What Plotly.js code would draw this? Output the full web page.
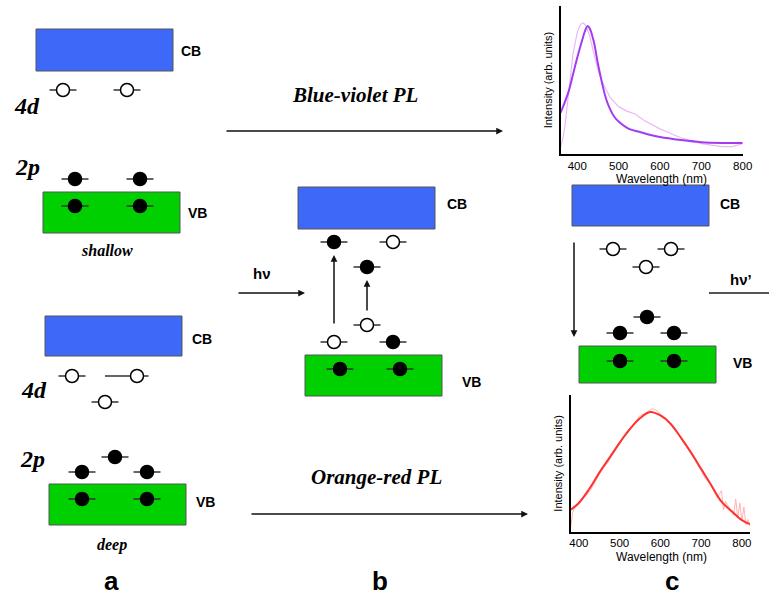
<!DOCTYPE html>
<html><head><meta charset="utf-8">
<script src="https://cdn.plot.ly/plotly-3.0.1.min.js"></script>
<style>html,body{margin:0;padding:0;background:#fff}</style>
</head><body><div id="chart" style="width:769px;height:597px"></div>
<script>
// ---- Blue-violet PL spectrum (top inset) ----
const bvFitWavelength = [360,370,380,390,400,410,420,425,430,440,450,460,470,480,490,500,525,550,575,600,650,700,750,800];
const bvFitIntensity  = [0.28,0.35,0.43,0.54,0.65,0.75,0.84,0.865,0.85,0.76,0.61,0.48,0.37,0.30,0.25,0.22,0.17,0.15,0.13,0.115,0.095,0.08,0.075,0.075];
const bvRawWavelength = [360,365,370,375,380,390,400,405,410,415,420,430,440,450,460,470,480,490,500,520,540,560,580,600,625,650,675,700,725,750,775,800];
const bvRawIntensity  = [0.05,0.10,0.18,0.30,0.45,0.68,0.82,0.86,0.88,0.885,0.87,0.80,0.68,0.57,0.49,0.43,0.38,0.35,0.32,0.29,0.27,0.23,0.20,0.17,0.14,0.11,0.09,0.07,0.06,0.05,0.05,0.07];
// ---- Orange-red PL spectrum (bottom inset) ----
const orFitWavelength = [380,400,425,450,475,500,525,550,575,600,625,650,675,700,725,750,775,800,820];
const orFitIntensity  = [0.16,0.21,0.31,0.43,0.54,0.65,0.75,0.83,0.875,0.85,0.79,0.69,0.58,0.46,0.34,0.22,0.15,0.085,0.055];
const orRawWavelength = [380,385,390,400,410,420,430,440,450,460,470,480,490,500,510,520,530,540,550,560,570,580,590,600,610,620,630,640,650,660,670,680,690,700,710,720,730,740,750,755,760,770,780,785,790,795,800,805,810,815,820];
const orRawIntensity  = [0.03,0.14,0.18,0.20,0.25,0.27,0.31,0.37,0.42,0.47,0.50,0.55,0.60,0.64,0.69,0.72,0.77,0.81,0.85,0.86,0.88,0.90,0.89,0.86,0.84,0.81,0.77,0.73,0.69,0.64,0.60,0.56,0.50,0.45,0.39,0.36,0.31,0.25,0.30,0.16,0.22,0.17,0.12,0.24,0.10,0.21,0.08,0.18,0.05,0.09,0.04];
// tick labels
const tickWavelengths = [400,500,600,700,800];
const xTitle = 'Wavelength (nm)';
const yTitle = 'Intensity (arb. units)';

const BLUE = '#3d68f8', GREEN = '#00d000';
const sans = 'Liberation Sans, Arial, sans-serif';
const serif = 'Liberation Serif, Times New Roman, serif';

const shapes = [];
const annotations = [];
function rect(x0,y0,x1,y1,color){
  shapes.push({type:'rect',xref:'x3',yref:'y3',x0:x0,y0:y0,x1:x1,y1:y1,fillcolor:color,line:{color:'#555',width:1}});
}
function level(cx,cy,filled,left,right){
  left = left||13.5; right = right||13.5;
  shapes.push({type:'line',xref:'x3',yref:'y3',x0:cx-left,y0:cy,x1:cx+right,y1:cy,line:{color:'#333',width:1.5}});
  shapes.push({type:'circle',xref:'x3',yref:'y3',x0:cx-6.5,y0:cy-6.5,x1:cx+6.5,y1:cy+6.5,
    fillcolor:filled?'#000':'#fff',line:{color:'#000',width:1.5}});
}
function label(x,y,text,font){
  annotations.push({x:x,y:y,xref:'x3',yref:'y3',text:text,showarrow:false,xanchor:'center',yanchor:'middle',font:font});
}
function arrow(x0,y0,x1,y1){
  annotations.push({x:x1,y:y1,ax:x0,ay:y0,xref:'x3',yref:'y3',axref:'x3',ayref:'y3',text:'',showarrow:true,
    arrowhead:2,arrowsize:0.9,arrowwidth:1.5,arrowcolor:'#111'});
}
const fBand = {family:sans,size:14,color:'#000',weight:'bold'};
const fOrb  = {family:serif,size:24,color:'#000',weight:'bold',style:'italic'};
const fPL   = {family:serif,size:21,color:'#000',weight:'bold',style:'italic'};
const fSm   = {family:serif,size:16,color:'#000',weight:'bold',style:'italic'};
const fPanel= {family:sans,size:26,color:'#000',weight:'bold'};
const axFont = {family:sans,size:12,color:'#000'};

// panel a, shallow
rect(36,29,173,71,BLUE); label(191,51,'CB',fBand);
level(63,90,false); level(127,90,false);
label(27,106,'4d',fOrb); label(27,167,'2p',fOrb);
level(75,179,true); level(140,179,true);
rect(43,192,180,233,GREEN);
level(75,206,true); level(140,206,true);
label(197,213,'VB',fBand);
label(107,250,'shallow',fSm);
// panel a, deep
rect(45,316,182,356,BLUE); label(202,339,'CB',fBand);
level(72,376,false); level(137,376,false,32,11.5); level(105,402,false);
label(34,390,'4d',fOrb); label(32,459,'2p',fOrb);
level(82,472,true); level(115,457,true); level(147,472,true);
rect(49,484,186,525,GREEN);
level(82,499,true); level(147,499,true);
label(205,502,'VB',fBand);
label(112,545,'deep',fSm);
// panel b
rect(298,187,435,229,BLUE); label(457,204,'CB',fBand);
level(334,242,true); level(393,242,false);
level(367,267,true);
arrow(334,325,334,255); arrow(367,312,367,280);
level(367,325,false); level(334,342,false); level(393,342,true);
rect(305,355,442,396,GREEN);
level(340,369,true); level(400,369,true);
label(471,382,'VB',fBand);
arrow(237,293,305,293); label(262,273,'hν',{family:sans,size:15,color:'#000',weight:'bold'});
// panel c
rect(572,185,709,226,BLUE); label(730,204,'CB',fBand);
level(613,249,false); level(671,249,false); level(646,267,false);
arrow(574,241,574,337);
shapes.push({type:'line',xref:'x3',yref:'y3',x0:709,y0:293,x1:770,y1:293,line:{color:'#555',width:2}});
label(741,279,'hν’',{family:sans,size:15,color:'#000',weight:'bold'});
level(647,317,true); level(620,333,true); level(674,333,true);
rect(579,346,716,383,GREEN);
level(620,361,true); level(674,361,true);
label(742,363,'VB',fBand);
// PL arrows
label(355,95,'Blue-violet PL',fPL); arrow(225,131,503,131);
label(376,477,'Orange-red PL',fPL); arrow(250,514,528,514);
// panel letters
label(111,581,'a',fPanel); label(380,581,'b',fPanel); label(672,581,'c',fPanel);
// inset x-axis titles
label(661,179,xTitle,axFont);
label(661,557,xTitle,axFont);

const traces = [
  {x:bvRawWavelength,y:bvRawIntensity,type:'scatter',mode:'lines',line:{color:'#ecb8f4',width:1.2},xaxis:'x',yaxis:'y',hoverinfo:'skip'},
  {x:bvFitWavelength,y:bvFitIntensity,type:'scatter',mode:'lines',line:{color:'#a33cf0',width:2,shape:'spline'},xaxis:'x',yaxis:'y'},
  {x:orRawWavelength,y:orRawIntensity,type:'scatter',mode:'lines',line:{color:'#ffb4b4',width:1},xaxis:'x2',yaxis:'y2',hoverinfo:'skip'},
  {x:orFitWavelength,y:orFitIntensity,type:'scatter',mode:'lines',line:{color:'#ff3030',width:2,shape:'spline'},xaxis:'x2',yaxis:'y2'},
  {x:[],y:[],type:'scatter',xaxis:'x3',yaxis:'y3',hoverinfo:'skip'}
];
function xax(domain,range){
  return {domain:domain,range:range,showline:true,linecolor:'#000',linewidth:2,showgrid:false,zeroline:false,
    tickvals:tickWavelengths,ticks:'',tickfont:{family:sans,size:11.5,color:'#000'}};
}
function yax(domain,anchor){
  return {domain:domain,range:[0,1],anchor:anchor,showline:true,linecolor:'#000',linewidth:2,showgrid:false,zeroline:false,
    showticklabels:false,ticks:'',title:{text:yTitle,font:{family:sans,size:11,color:'#000'},standoff:4}};
}
const layout = {
  width:769,height:597,margin:{l:0,r:0,t:0,b:0},paper_bgcolor:'#fff',plot_bgcolor:'rgba(0,0,0,0)',showlegend:false,
  xaxis:Object.assign(xax([0.7291,0.9658],[360,800]),{anchor:'y'}),
  yaxis:yax([0.742,0.99],'x'),
  xaxis2:Object.assign(xax([0.7421,0.9753],[380,820]),{anchor:'y2'}),
  yaxis2:yax([0.1094,0.3384],'x2'),
  xaxis3:{domain:[0,1],range:[0,769],visible:false,anchor:'y3',fixedrange:true},
  yaxis3:{domain:[0,1],range:[597,0],visible:false,anchor:'x3',fixedrange:true},
  shapes:shapes,annotations:annotations
};
Plotly.newPlot('chart',traces,layout,{displayModeBar:false,staticPlot:true});
</script></body></html>
